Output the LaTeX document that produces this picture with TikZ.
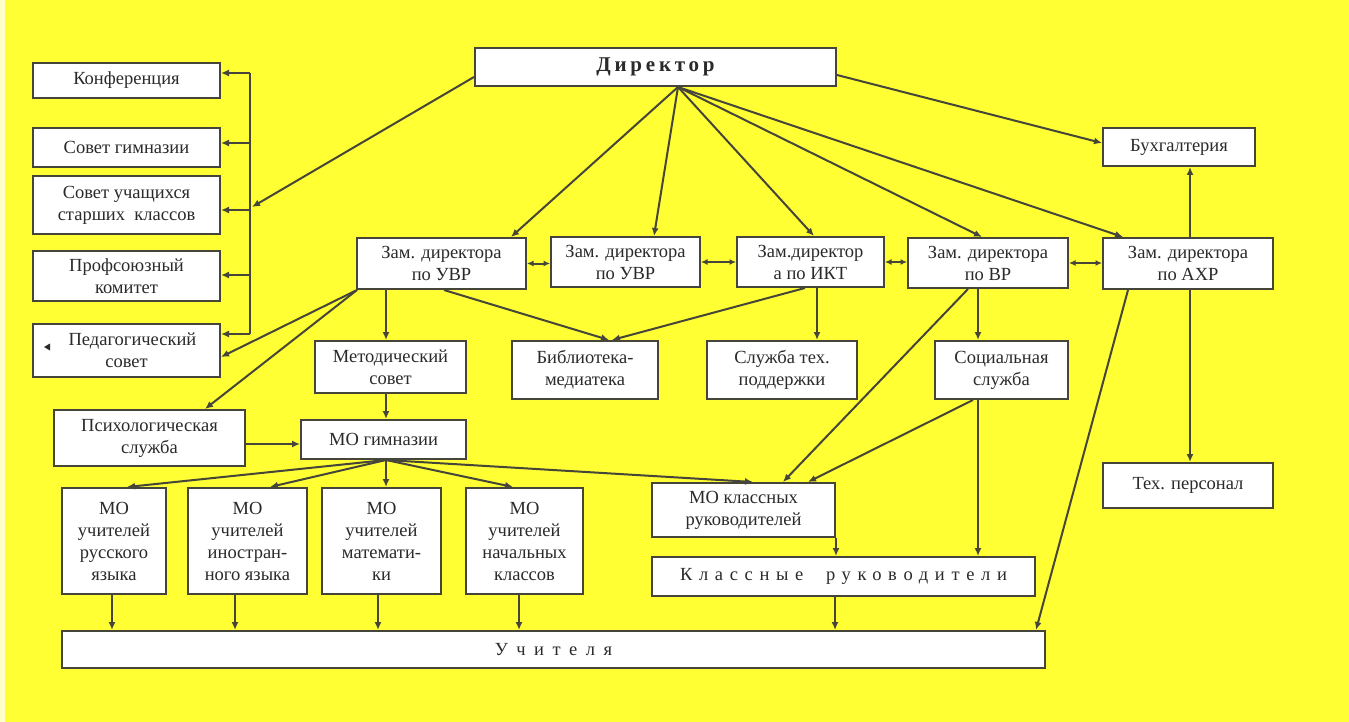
\documentclass[tikz,border=0pt]{standalone}
\usepackage{fontspec}
\setmainfont{Liberation Serif}
\newfontfamily\boxfont{Liberation Serif}
\usetikzlibrary{arrows.meta,calc}
\definecolor{bgcol}{HTML}{FFFF33}
\definecolor{palecol}{HTML}{FFFFC8}
\definecolor{lncol}{HTML}{45453A}
\definecolor{txcol}{HTML}{2A2A2A}
\begin{document}
\begin{tikzpicture}[x=1pt,y=-1pt,
  box/.style={draw=lncol, line width=2pt, fill=white, text=txcol, align=center, inner sep=2pt,
    font=\boxfont\fontsize{18.5}{22}\selectfont},
  conn/.style={draw=lncol, line width=2pt},
  arr/.style={conn, -{Latex[length=8pt,width=7pt]}},
  arrtwo/.style={conn, {Latex[length=6.5pt,width=6pt]}-{Latex[length=6.5pt,width=6pt]}}
]
\fill[bgcol] (0,0) rectangle (1349,722);
\fill[palecol] (0,0) rectangle (5,722);
\useasboundingbox (0,0) rectangle (1349,722);

% nodes
\node[box, minimum width=361pt, minimum height=38pt, font=\boxfont\fontsize{21}{25}\selectfont\bfseries] (dir) at (655.5,67) {\addfontfeature{LetterSpace=18}Директор};
\node[box, minimum width=187pt, minimum height=35pt] (konf) at (126.5,80.5) {Конференция};
\node[box, minimum width=187pt, minimum height=39pt] (sovgim) at (126.5,147.5) {Совет гимназии};
\node[box, minimum width=187pt, minimum height=58pt] (sovuch) at (126.5,205) {Совет учащихся\\старших\ \ классов};
\node[box, minimum width=187pt, minimum height=50pt] (prof) at (126.5,276) {Профсоюзный\\комитет};
\node[box, minimum width=187pt, minimum height=53pt] (ped) at (126.5,350.5) {\hspace*{12pt}Педагогический\\совет};
\node[box, minimum width=152pt, minimum height=38pt] (buh) at (1179,147) {Бухгалтерия};
\node[box, minimum width=169pt, minimum height=51pt] (uvr1) at (441.5,263.5) {Зам. директора\\по УВР};
\node[box, minimum width=149pt, minimum height=50pt] (uvr2) at (625.5,262) {Зам. директора\\по УВР};
\node[box, minimum width=147pt, minimum height=50pt] (ikt) at (810.5,262) {Зам.директор\\а по ИКТ};
\node[box, minimum width=160pt, minimum height=50pt] (vr) at (988,263) {Зам. директора\\по ВР};
\node[box, minimum width=170pt, minimum height=51pt] (ahr) at (1188,263.5) {Зам. директора\\по АХР};
\node[box, minimum width=151pt, minimum height=52pt] (met) at (390.5,367) {Методический\\совет};
\node[box, minimum width=146pt, minimum height=58pt] (bib) at (585,370) {Библиотека-\\медиатека};
\node[box, minimum width=150pt, minimum height=58pt] (tech) at (782,370) {Служба тех.\\поддержки};
\node[box, minimum width=133pt, minimum height=58pt] (soc) at (1001.5,370) {Социальная\\служба};
\node[box, minimum width=191pt, minimum height=56pt] (psy) at (149.5,438) {Психологическая\\служба};
\node[box, minimum width=165pt, minimum height=39pt] (mog) at (383.5,439.5) {МО гимназии};
\node[box, minimum width=104pt, minimum height=106pt] (mo1) at (114,541) {МО\\учителей\\русского\\языка};
\node[box, minimum width=119pt, minimum height=106pt] (mo2) at (247.5,541) {МО\\учителей\\иностран-\\ного языка};
\node[box, minimum width=119pt, minimum height=106pt] (mo3) at (381.5,541) {МО\\учителей\\математи-\\ки};
\node[box, minimum width=117pt, minimum height=106pt] (mo4) at (524.5,541) {МО\\учителей\\начальных\\классов};
\node[box, minimum width=183pt, minimum height=54pt] (mokl) at (743.5,510) {МО классных\\руководителей};
\node[box, minimum width=383pt, minimum height=39pt] (kl) at (843.5,576.5) {\addfontfeature{LetterSpace=36}Классные\ \ руководители};
\node[box, minimum width=983pt, minimum height=37pt] (uch) at (553.5,649.5) {\addfontfeature{LetterSpace=46}Учителя};
\node[box, minimum width=170pt, minimum height=45pt] (techp) at (1188,485.5) {Тех. персонал};

% small stray triangle in Pedagogical council box
\fill[txcol] (44,347) -- (50,343.5) -- (50,350.5) -- cycle;

% bracket on the left
\coordinate (b1) at (250,73);
\coordinate (b2) at (250,143);
\coordinate (b3) at (250,210);
\coordinate (b4) at (250,275);
\coordinate (b5) at (250,334);
\coordinate (bd) at (252,207);
\draw[conn] (b1) -- (b5);
\draw[arr] (b1) -- (b1 -| konf.east);
\draw[arr] (b2) -- (b2 -| sovgim.east);
\draw[arr] (b3) -- (b3 -| sovuch.east);
\draw[arr] (b4) -- (b4 -| prof.east);
\draw[arr] (b5) -- (b5 -| ped.east);
\draw[arr] ([yshift=-10pt]dir.west) -- (bd);

% director
\draw[arr] ([yshift=-8pt]dir.east) -- ([yshift=4pt]buh.west);
\coordinate (F) at ([xshift=22.5pt]dir.south);
\draw[arr] (F) -- ([xshift=69.5pt]uvr1.north);
\draw[arr] (F) -- ([xshift=28.5pt]uvr2.north);
\draw[arr] (F) -- ([xshift=3.5pt]ikt.north);
\draw[arr] (F) -- ([xshift=-6pt]vr.north);
\draw[arr] (F) -- ([xshift=-65pt]ahr.north);

% deputies row
\draw[arrtwo] (uvr1.east) -- (uvr1.east -| uvr2.west);
\draw[arrtwo] (uvr2.east) -- (ikt.west);
\draw[arrtwo] (ikt.east) -- (ikt.east -| vr.west);
\draw[arrtwo] (vr.east) -- (vr.east -| ahr.west);

% AHR
\draw[arr] ([xshift=2pt]ahr.north) -- ([xshift=2pt]ahr.north |- buh.south);
\draw[arr] ([xshift=2pt]ahr.south) -- ([xshift=2pt]ahr.south |- techp.north);
\draw[arr] ([xshift=-60pt]ahr.south) -- ([xshift=-10pt]uch.north east);

% VR
\draw[arr] ([xshift=-10pt]vr.south) -- ([xshift=-10pt]vr.south |- soc.north);
\draw[arr] ([xshift=-20pt]vr.south) -- ([xshift=39.5pt]mokl.north);
\draw[arr] ([xshift=-28.5pt]soc.south) -- ([xshift=64.5pt]mokl.north);
\draw[arr] ([xshift=-23.5pt]soc.south) -- ([xshift=-23.5pt]soc.south |- kl.north);
\draw[arr] (mokl.south east) -- (mokl.south east |- kl.north);
\draw[arr] ([xshift=-8.5pt]kl.south) -- ([xshift=-8.5pt]kl.south |- uch.north);

% IKT
\draw[arr] ([xshift=6.5pt]ikt.south) -- ([xshift=6.5pt]ikt.south |- tech.north);
\draw[arr] ([xshift=-5.5pt]ikt.south) -- ([xshift=27pt]bib.north);

% UVR
\draw[arr] ([xshift=2.5pt]uvr1.south) -- ([xshift=24pt]bib.north);
\draw[arr] ([xshift=-55.5pt]uvr1.south) -- ([xshift=-55.5pt]uvr1.south |- met.north);
\draw[arr] ([xshift=1pt]uvr1.south west) -- ([yshift=-6.5pt]ped.east);
\draw[arr] ([xshift=1pt]uvr1.south west) -- ([xshift=55.5pt]psy.north);
\draw[arr] ([xshift=-4.5pt]met.south) -- ([xshift=-4.5pt]met.south |- mog.north);
\draw[arr] ([yshift=-6pt]psy.east) -- ([yshift=-6pt]psy.east -| mog.west);

% MO gymnasium fan
\coordinate (G) at ([xshift=2.5pt]mog.south);
\draw[arr] (G) -- ([xshift=13pt]mo1.north);
\draw[arr] (G) -- ([xshift=22.5pt]mo2.north);
\draw[arr] (G) -- ([xshift=4.5pt]mo3.north);
\draw[arr] (G) -- ([xshift=-11.5pt]mo4.north);
\draw[arr] (G) -- ([xshift=9.5pt]mokl.north);

% MO to teachers
\draw[arr] ([xshift=-2pt]mo1.south) -- ([xshift=-2pt]mo1.south |- uch.north);
\draw[arr] ([xshift=-12.5pt]mo2.south) -- ([xshift=-12.5pt]mo2.south |- uch.north);
\draw[arr] ([xshift=-3.5pt]mo3.south) -- ([xshift=-3.5pt]mo3.south |- uch.north);
\draw[arr] ([xshift=-5.5pt]mo4.south) -- ([xshift=-5.5pt]mo4.south |- uch.north);
\end{tikzpicture}
\end{document}
